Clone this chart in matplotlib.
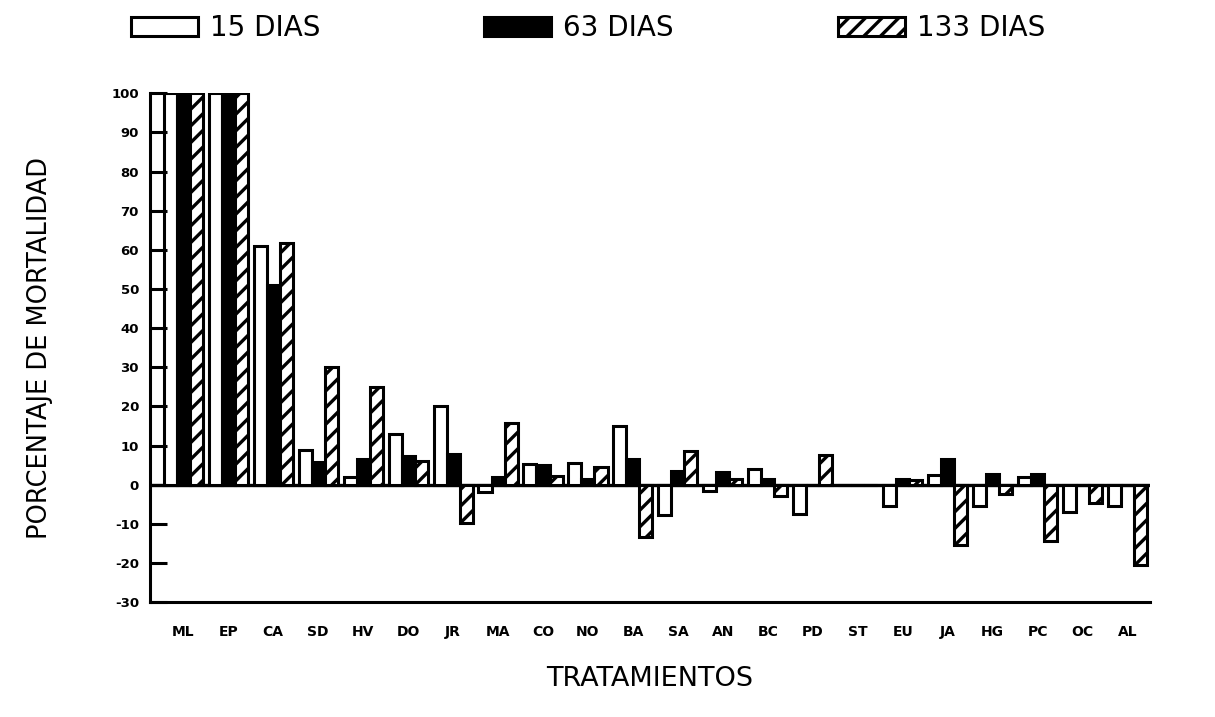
import numpy as np
import matplotlib.pyplot as plt

plt.rcParams['hatch.linewidth'] = 2.4

# treatments and mortality (%)
tratamientos = ['ML', 'EP', 'CA', 'SD', 'HV', 'DO', 'JR', 'MA', 'CO', 'NO', 'BA',
                'SA', 'AN', 'BC', 'PD', 'ST', 'EU', 'JA', 'HG', 'PC', 'OC', 'AL']
dias15 = [100, 100, 61, 9, 2, 13, 20, -1.8, 5.4, 5.5, 15,
          -7.7, -1.6, 4, -7.5, 0, -5.4, 2.4, -5.5, 2, -7, -5.5]
dias63 = [100, 100, 51, 5.7, 6.6, 7.4, 7.9, 2, 5.1, 1.5, 6.5,
          3.4, 3.2, 1.4, 0, 0, 1.4, 6.5, 2.8, 2.8, 0, 0]
dias133 = [100, 100, 61.7, 30, 25, 6, -9.8, 15.9, 2.2, 4.6, -13.4,
           8.6, 1.6, -2.8, 7.7, 0, 1.3, -15.5, -2.4, -14.3, -4.7, -20.5]
series_names = ['15 DIAS', '63 DIAS', '133 DIAS']
yticks = list(range(-30, 101, 10))

fig = plt.figure(figsize=(12.15, 7.17), dpi=100)
ax = fig.add_axes([0.1235, 0.160, 0.823, 0.710])

x = np.arange(len(tratamientos))
w = 0.29
b1 = ax.bar(x - w, dias15, w, color='white', edgecolor='black', linewidth=2.2, label=series_names[0])
b2 = ax.bar(x, dias63, w, color='black', edgecolor='black', linewidth=2.2, label=series_names[1])
b3 = ax.bar(x + w, dias133, w, color='white', edgecolor='black', linewidth=2.2,
            hatch='//', label=series_names[2])

ax.axhline(0, color='black', lw=2.4, zorder=0)

ax.set_xlim(-0.74, 21.5)
ax.set_ylim(-30, 100)
ax.set_yticks(yticks)
ax.set_yticklabels([str(t) for t in yticks], fontsize=9.5, fontweight='heavy')
ax.set_xticks(x)
ax.set_xticklabels(tratamientos, fontsize=10, fontweight='heavy')
ax.tick_params(axis='y', direction='in', length=12, width=2.2, pad=8)
ax.tick_params(axis='x', length=0, pad=16)

for s in ['top', 'right']:
    ax.spines[s].set_visible(False)
for s in ['left', 'bottom']:
    ax.spines[s].set_linewidth(2.2)

ax.set_ylabel('PORCENTAJE DE MORTALIDAD', fontsize=18.5, labelpad=42)
ax.set_xlabel('TRATAMIENTOS', fontsize=19.5, labelpad=20)

leg = fig.legend(handles=[b1, b2, b3], loc='upper center', bbox_to_anchor=(0.484, 1.015),
                 ncol=3, frameon=False, fontsize=20, handlelength=2.4, handleheight=0.7,
                 columnspacing=5.9, handletextpad=0.45)

fig.savefig('out.png', dpi=100)
